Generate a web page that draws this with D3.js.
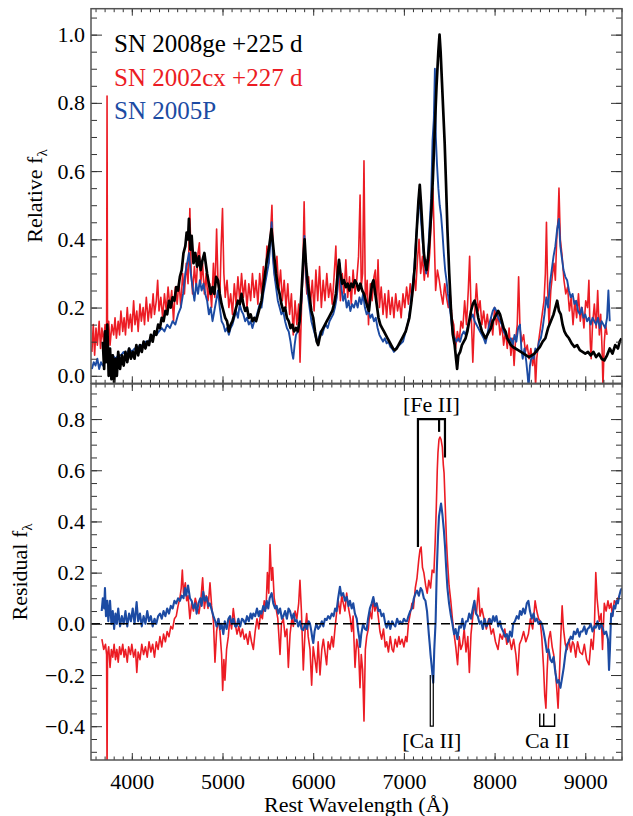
<!DOCTYPE html>
<html>
<head>
<meta charset="utf-8">
<script src="https://cdn.jsdelivr.net/npm/d3@7"></script>
<style>
  body { margin: 0; background: #fff; }
  svg text { font-family: "Liberation Serif", "DejaVu Serif", serif; }
</style>
</head>
<body>
<div id="chart"></div>
<script>
// spectra: [rest wavelength (A), relative flux]
var sn2008geTop = [[3680,0.10],[3695,0.02],[3705,0.13],[3715,0.04],[3730,0.15],[3745,0.0],[3760,0.08],[3775,-0.01],[3790,0.06],[3805,-0.02],[3820,0.05],[3835,0.0],[3850,0.07],[3870,0.02],[3890,0.06],[3910,0.03],[3930,0.07],[3950,0.04],[3970,0.08],[3990,0.05],[4010,0.07],[4030,0.05],[4050,0.09],[4070,0.06],[4090,0.09],[4110,0.07],[4130,0.10],[4150,0.08],[4170,0.10],[4190,0.09],[4210,0.12],[4230,0.10],[4250,0.13],[4270,0.12],[4290,0.15],[4310,0.14],[4330,0.17],[4350,0.16],[4370,0.19],[4390,0.18],[4410,0.22],[4430,0.20],[4450,0.23],[4470,0.22],[4490,0.26],[4510,0.25],[4530,0.29],[4550,0.31],[4570,0.36],[4590,0.38],[4605,0.42],[4620,0.40],[4630,0.46],[4645,0.37],[4660,0.41],[4680,0.33],[4700,0.36],[4720,0.32],[4740,0.35],[4760,0.31],[4780,0.34],[4800,0.36],[4815,0.33],[4830,0.30],[4850,0.27],[4870,0.24],[4890,0.26],[4910,0.24],[4930,0.29],[4950,0.28],[4970,0.24],[4990,0.21],[5010,0.19],[5030,0.17],[5050,0.16],[5070,0.13],[5090,0.15],[5110,0.16],[5130,0.18],[5150,0.20],[5170,0.22],[5190,0.21],[5210,0.24],[5230,0.21],[5250,0.19],[5270,0.20],[5290,0.17],[5310,0.18],[5330,0.16],[5350,0.17],[5370,0.16],[5390,0.18],[5410,0.20],[5430,0.22],[5450,0.26],[5470,0.30],[5490,0.34],[5510,0.37],[5525,0.40],[5540,0.43],[5555,0.39],[5570,0.35],[5590,0.30],[5610,0.26],[5630,0.24],[5650,0.21],[5670,0.19],[5690,0.20],[5710,0.17],[5730,0.16],[5750,0.14],[5770,0.15],[5790,0.13],[5810,0.14],[5830,0.13],[5850,0.16],[5870,0.24],[5890,0.34],[5905,0.40],[5920,0.33],[5940,0.27],[5960,0.23],[5980,0.19],[6000,0.17],[6020,0.13],[6040,0.10],[6055,0.09],[6070,0.11],[6090,0.13],[6110,0.14],[6130,0.15],[6150,0.16],[6170,0.17],[6190,0.18],[6210,0.19],[6230,0.21],[6250,0.24],[6270,0.30],[6285,0.34],[6300,0.30],[6320,0.27],[6340,0.28],[6360,0.26],[6380,0.27],[6400,0.25],[6420,0.27],[6440,0.26],[6460,0.28],[6480,0.27],[6500,0.25],[6520,0.27],[6540,0.25],[6560,0.24],[6580,0.22],[6600,0.20],[6615,0.19],[6630,0.23],[6650,0.27],[6665,0.28],[6680,0.25],[6700,0.21],[6720,0.17],[6740,0.15],[6760,0.14],[6780,0.13],[6800,0.12],[6820,0.11],[6840,0.10],[6860,0.09],[6880,0.08],[6900,0.075],[6920,0.08],[6940,0.09],[6960,0.10],[6980,0.11],[7000,0.12],[7020,0.13],[7040,0.15],[7060,0.17],[7080,0.21],[7100,0.26],[7120,0.32],[7140,0.42],[7160,0.51],[7175,0.56],[7190,0.50],[7205,0.43],[7220,0.36],[7235,0.33],[7250,0.31],[7265,0.34],[7280,0.39],[7300,0.47],[7320,0.58],[7340,0.72],[7360,0.85],[7380,0.95],[7393,1.00],[7405,0.95],[7420,0.86],[7435,0.77],[7450,0.68],[7465,0.56],[7480,0.43],[7500,0.30],[7520,0.19],[7540,0.12],[7560,0.09],[7575,0.05],[7587,0.02],[7600,0.06],[7620,0.07],[7640,0.09],[7660,0.10],[7680,0.11],[7700,0.13],[7720,0.16],[7740,0.19],[7760,0.21],[7780,0.22],[7800,0.20],[7820,0.17],[7840,0.15],[7860,0.13],[7880,0.12],[7900,0.11],[7920,0.12],[7940,0.13],[7960,0.14],[7980,0.16],[8000,0.17],[8020,0.18],[8040,0.19],[8060,0.18],[8080,0.16],[8100,0.14],[8120,0.13],[8140,0.11],[8160,0.10],[8180,0.09],[8200,0.085],[8230,0.08],[8260,0.075],[8290,0.07],[8320,0.065],[8350,0.06],[8380,0.055],[8410,0.06],[8440,0.065],[8470,0.075],[8500,0.085],[8530,0.10],[8560,0.11],[8590,0.14],[8620,0.16],[8650,0.18],[8670,0.20],[8690,0.22],[8710,0.19],[8730,0.18],[8750,0.15],[8770,0.13],[8790,0.12],[8820,0.11],[8850,0.095],[8880,0.085],[8910,0.09],[8940,0.075],[8970,0.07],[9000,0.065],[9030,0.07],[9060,0.06],[9090,0.07],[9120,0.055],[9150,0.065],[9180,0.05],[9210,0.045],[9240,0.06],[9270,0.08],[9300,0.065],[9330,0.09],[9360,0.08],[9380,0.10],[9400,0.11]];

var sn2002cxTop = [[3560,0.07],[3575,0.15],[3590,0.06],[3605,0.14],[3620,0.09],[3640,0.16],[3655,0.08],[3670,0.14],[3690,0.10],[3705,0.15],[3722,0.12],[3727,0.82],[3732,0.12],[3745,0.16],[3760,0.09],[3780,0.15],[3800,0.12],[3815,0.17],[3830,0.11],[3850,0.16],[3865,0.12],[3880,0.19],[3900,0.13],[3915,0.17],[3930,0.12],[3950,0.20],[3965,0.14],[3985,0.18],[4000,0.13],[4020,0.22],[4035,0.15],[4055,0.19],[4070,0.13],[4090,0.21],[4105,0.16],[4125,0.20],[4140,0.15],[4160,0.23],[4180,0.16],[4200,0.21],[4215,0.17],[4235,0.24],[4250,0.18],[4270,0.22],[4285,0.28],[4300,0.19],[4320,0.23],[4340,0.17],[4360,0.24],[4380,0.19],[4400,0.26],[4420,0.20],[4440,0.25],[4460,0.16],[4480,0.26],[4500,0.21],[4520,0.28],[4540,0.20],[4560,0.30],[4580,0.24],[4600,0.33],[4620,0.27],[4640,0.49],[4655,0.30],[4670,0.24],[4690,0.32],[4710,0.26],[4730,0.36],[4745,0.39],[4760,0.27],[4780,0.33],[4800,0.24],[4820,0.30],[4840,0.22],[4860,0.27],[4880,0.20],[4900,0.33],[4915,0.23],[4935,0.43],[4950,0.28],[4970,0.22],[4985,0.38],[5000,0.49],[5015,0.30],[5030,0.23],[5050,0.28],[5070,0.20],[5090,0.24],[5110,0.18],[5130,0.27],[5150,0.21],[5170,0.29],[5190,0.22],[5210,0.30],[5230,0.23],[5250,0.28],[5270,0.20],[5290,0.27],[5310,0.22],[5330,0.30],[5350,0.23],[5370,0.28],[5390,0.21],[5410,0.30],[5430,0.24],[5450,0.32],[5470,0.27],[5490,0.38],[5510,0.33],[5530,0.42],[5545,0.50],[5560,0.34],[5580,0.28],[5600,0.35],[5620,0.25],[5640,0.31],[5660,0.22],[5680,0.28],[5700,0.20],[5720,0.27],[5740,0.18],[5760,0.24],[5780,0.12],[5800,0.22],[5820,0.15],[5840,0.21],[5855,0.04],[5870,0.19],[5885,0.30],[5900,0.51],[5915,0.30],[5930,0.24],[5950,0.29],[5970,0.21],[5990,0.28],[6010,0.19],[6030,0.31],[6050,0.22],[6070,0.32],[6090,0.20],[6110,0.28],[6130,0.22],[6150,0.30],[6170,0.23],[6190,0.27],[6210,0.21],[6230,0.29],[6250,0.38],[6265,0.24],[6285,0.33],[6300,0.22],[6320,0.30],[6340,0.24],[6360,0.34],[6380,0.23],[6400,0.29],[6420,0.21],[6440,0.31],[6460,0.24],[6480,0.28],[6500,0.35],[6517,0.53],[6530,0.26],[6545,0.30],[6560,0.63],[6575,0.22],[6595,0.28],[6610,0.15],[6630,0.27],[6650,0.22],[6670,0.29],[6685,0.31],[6700,0.21],[6715,0.34],[6730,0.20],[6750,0.26],[6770,0.18],[6790,0.24],[6810,0.17],[6830,0.25],[6850,0.18],[6870,0.23],[6890,0.17],[6910,0.24],[6930,0.19],[6950,0.22],[6970,0.17],[6990,0.24],[7010,0.20],[7030,0.26],[7050,0.21],[7070,0.27],[7090,0.22],[7110,0.30],[7130,0.25],[7150,0.34],[7167,0.40],[7185,0.30],[7205,0.35],[7225,0.28],[7245,0.34],[7265,0.29],[7285,0.36],[7300,0.45],[7320,0.55],[7335,0.40],[7350,0.25],[7370,0.31],[7390,0.28],[7410,0.24],[7430,0.21],[7450,0.27],[7470,0.23],[7490,0.20],[7510,0.24],[7530,0.17],[7550,0.15],[7570,0.08],[7590,0.13],[7610,0.10],[7630,0.16],[7650,0.14],[7670,0.22],[7690,0.15],[7710,0.25],[7725,0.35],[7740,0.20],[7760,0.04],[7780,0.18],[7800,0.27],[7820,0.19],[7840,0.22],[7860,0.15],[7880,0.19],[7900,0.14],[7920,0.18],[7940,0.13],[7960,0.17],[7980,0.12],[8000,0.20],[8020,0.15],[8040,0.18],[8060,0.12],[8080,0.15],[8100,0.09],[8120,0.13],[8140,0.08],[8160,0.14],[8180,0.06],[8200,0.11],[8215,0.03],[8230,0.10],[8250,0.15],[8265,0.29],[8280,0.14],[8300,0.10],[8320,0.12],[8340,0.07],[8360,0.09],[8380,0.05],[8400,0.08],[8420,0.03],[8440,0.06],[8452,-0.03],[8465,0.05],[8485,0.10],[8505,0.14],[8525,0.18],[8545,0.22],[8560,0.30],[8572,0.45],[8585,0.26],[8600,0.15],[8620,0.25],[8640,0.30],[8655,0.33],[8670,0.28],[8685,0.40],[8700,0.46],[8710,0.55],[8725,0.40],[8745,0.35],[8765,0.28],[8785,0.24],[8805,0.26],[8825,0.19],[8845,0.23],[8865,0.15],[8885,0.22],[8905,0.17],[8925,0.24],[8945,0.16],[8965,0.20],[8985,0.14],[9005,0.22],[9025,0.20],[9040,0.28],[9055,0.10],[9065,0.05],[9080,0.15],[9100,0.21],[9120,0.14],[9137,0.25],[9155,0.12],[9170,0.18],[9185,0.08],[9195,-0.03],[9210,0.10],[9225,0.15],[9240,0.12]];

var sn2005pTop = [[3560,0.02],[3580,0.04],[3600,0.03],[3620,0.05],[3640,0.02],[3660,0.04],[3680,0.03],[3700,0.04],[3730,0.05],[3760,0.04],[3790,0.06],[3820,0.05],[3850,0.06],[3880,0.06],[3910,0.07],[3940,0.06],[3970,0.08],[4000,0.07],[4030,0.08],[4060,0.08],[4090,0.09],[4120,0.09],[4150,0.10],[4180,0.10],[4210,0.11],[4240,0.12],[4270,0.12],[4300,0.13],[4330,0.14],[4360,0.13],[4390,0.15],[4420,0.14],[4450,0.16],[4480,0.15],[4510,0.18],[4540,0.20],[4565,0.24],[4590,0.30],[4610,0.33],[4630,0.36],[4650,0.30],[4670,0.26],[4690,0.22],[4710,0.27],[4730,0.24],[4750,0.28],[4770,0.25],[4790,0.27],[4810,0.24],[4830,0.22],[4850,0.18],[4870,0.20],[4890,0.16],[4910,0.19],[4930,0.22],[4950,0.25],[4970,0.20],[4990,0.16],[5010,0.15],[5030,0.13],[5050,0.14],[5070,0.12],[5090,0.14],[5110,0.15],[5130,0.17],[5150,0.19],[5170,0.17],[5190,0.21],[5210,0.19],[5230,0.18],[5250,0.16],[5270,0.17],[5290,0.15],[5310,0.16],[5330,0.14],[5350,0.16],[5370,0.17],[5390,0.19],[5410,0.21],[5430,0.20],[5450,0.24],[5470,0.27],[5490,0.30],[5510,0.33],[5525,0.38],[5542,0.45],[5555,0.35],[5570,0.30],[5590,0.26],[5610,0.22],[5630,0.20],[5650,0.18],[5670,0.19],[5690,0.16],[5710,0.14],[5730,0.13],[5750,0.10],[5765,0.07],[5780,0.05],[5795,0.09],[5810,0.12],[5830,0.13],[5850,0.16],[5870,0.22],[5890,0.33],[5903,0.41],[5920,0.30],[5940,0.24],[5960,0.20],[5980,0.16],[6000,0.14],[6020,0.12],[6040,0.10],[6060,0.11],[6080,0.13],[6100,0.12],[6120,0.14],[6140,0.15],[6160,0.14],[6180,0.16],[6200,0.17],[6220,0.18],[6240,0.20],[6260,0.23],[6280,0.30],[6292,0.33],[6310,0.26],[6330,0.22],[6350,0.24],[6370,0.20],[6390,0.22],[6410,0.19],[6430,0.21],[6450,0.20],[6470,0.22],[6490,0.20],[6510,0.23],[6530,0.21],[6550,0.24],[6570,0.20],[6590,0.18],[6610,0.19],[6630,0.17],[6650,0.18],[6670,0.16],[6690,0.17],[6710,0.14],[6730,0.12],[6750,0.11],[6770,0.10],[6790,0.11],[6810,0.095],[6830,0.10],[6850,0.085],[6870,0.08],[6890,0.07],[6910,0.08],[6930,0.085],[6950,0.09],[6970,0.095],[6990,0.10],[7010,0.12],[7030,0.14],[7050,0.16],[7070,0.20],[7090,0.25],[7110,0.30],[7130,0.38],[7150,0.46],[7167,0.53],[7185,0.47],[7205,0.40],[7225,0.34],[7245,0.30],[7265,0.35],[7285,0.45],[7300,0.52],[7316,0.69],[7330,0.75],[7342,0.90],[7352,0.70],[7365,0.62],[7380,0.55],[7395,0.50],[7410,0.47],[7425,0.42],[7440,0.36],[7455,0.31],[7470,0.28],[7485,0.24],[7500,0.21],[7520,0.17],[7540,0.12],[7560,0.11],[7580,0.10],[7600,0.11],[7620,0.10],[7640,0.12],[7660,0.13],[7680,0.12],[7700,0.14],[7720,0.16],[7740,0.17],[7760,0.18],[7780,0.16],[7800,0.15],[7820,0.14],[7840,0.13],[7860,0.12],[7880,0.11],[7900,0.095],[7920,0.12],[7940,0.15],[7960,0.17],[7980,0.19],[8000,0.20],[8020,0.19],[8040,0.17],[8060,0.16],[8080,0.15],[8100,0.13],[8120,0.12],[8140,0.11],[8160,0.10],[8180,0.11],[8200,0.09],[8220,0.12],[8240,0.10],[8260,0.14],[8280,0.15],[8295,0.08],[8310,0.05],[8330,0.08],[8350,0.04],[8365,0.0],[8375,-0.035],[8390,0.03],[8410,0.06],[8430,0.05],[8450,0.08],[8470,0.07],[8490,0.10],[8510,0.11],[8530,0.14],[8550,0.18],[8570,0.23],[8590,0.20],[8610,0.27],[8630,0.31],[8650,0.35],[8670,0.38],[8690,0.43],[8709,0.46],[8725,0.38],[8740,0.35],[8760,0.31],[8780,0.29],[8800,0.28],[8820,0.25],[8840,0.23],[8860,0.24],[8880,0.21],[8900,0.22],[8920,0.19],[8940,0.18],[8960,0.20],[8980,0.17],[9000,0.18],[9020,0.16],[9040,0.17],[9060,0.15],[9080,0.17],[9100,0.16],[9120,0.15],[9140,0.17],[9160,0.14],[9180,0.16],[9200,0.15],[9220,0.14],[9240,0.17],[9255,0.25],[9270,0.16]];

// residuals after subtracting SN 2008ge
var sn2002cxResidual = [[3670,-0.06],[3690,-0.10],[3710,-0.08],[3722,-0.12],[3727,-0.60],[3732,-0.12],[3745,-0.09],[3760,-0.17],[3775,-0.10],[3790,-0.13],[3805,-0.08],[3820,-0.14],[3835,-0.10],[3850,-0.15],[3865,-0.09],[3880,-0.12],[3900,-0.08],[3915,-0.13],[3930,-0.10],[3950,-0.15],[3965,-0.09],[3985,-0.12],[4000,-0.08],[4020,-0.13],[4040,-0.10],[4055,-0.19],[4070,-0.11],[4090,-0.14],[4110,-0.08],[4130,-0.12],[4150,-0.09],[4170,-0.13],[4190,-0.07],[4210,-0.11],[4230,-0.08],[4250,-0.13],[4270,-0.07],[4290,-0.10],[4310,-0.05],[4330,-0.09],[4350,-0.04],[4370,-0.07],[4390,-0.03],[4410,-0.05],[4430,-0.01],[4450,-0.02],[4470,0.02],[4490,0.03],[4510,0.07],[4530,0.10],[4545,0.14],[4557,0.21],[4570,0.12],[4590,0.16],[4605,0.09],[4620,0.11],[4640,0.02],[4660,0.08],[4680,0.05],[4700,0.10],[4720,0.07],[4740,0.04],[4760,0.09],[4781,0.18],[4800,0.06],[4820,0.11],[4840,0.06],[4862,0.16],[4880,0.07],[4900,0.01],[4917,-0.15],[4935,-0.03],[4955,0.02],[4972,-0.03],[4990,-0.12],[5002,-0.26],[5015,-0.14],[5027,-0.22],[5045,-0.10],[5064,-0.05],[5080,0.02],[5100,-0.02],[5119,0.06],[5140,0.0],[5160,-0.04],[5180,-0.01],[5200,-0.05],[5220,-0.02],[5240,-0.06],[5260,-0.04],[5280,-0.08],[5300,-0.03],[5320,-0.07],[5340,-0.10],[5360,-0.03],[5380,0.02],[5400,-0.02],[5420,0.04],[5440,0.02],[5460,0.09],[5480,0.06],[5495,0.20],[5510,0.12],[5524,0.31],[5540,0.17],[5553,0.22],[5570,0.10],[5590,0.06],[5610,0.02],[5634,-0.12],[5650,0.0],[5671,0.02],[5690,-0.05],[5710,-0.02],[5726,-0.17],[5745,-0.04],[5765,0.02],[5781,-0.01],[5800,0.05],[5820,0.02],[5840,0.08],[5854,0.17],[5870,0.05],[5891,-0.18],[5910,-0.03],[5928,0.04],[5945,-0.05],[5965,-0.10],[5983,-0.24],[6000,-0.09],[6020,-0.14],[6038,-0.19],[6055,-0.07],[6075,-0.20],[6095,-0.10],[6112,-0.06],[6130,-0.11],[6148,-0.16],[6165,-0.07],[6185,-0.10],[6205,-0.05],[6222,-0.09],[6240,-0.02],[6260,0.05],[6277,0.09],[6295,0.04],[6315,0.11],[6332,0.08],[6350,0.05],[6369,0.12],[6390,0.06],[6410,0.02],[6424,-0.03],[6440,0.03],[6461,-0.17],[6480,-0.06],[6500,-0.10],[6516,-0.25],[6530,-0.12],[6545,-0.18],[6560,-0.38],[6575,-0.10],[6590,-0.05],[6608,-0.02],[6625,0.05],[6645,0.02],[6663,0.10],[6680,0.05],[6700,0.08],[6720,0.02],[6736,-0.03],[6755,-0.06],[6775,-0.02],[6795,-0.09],[6810,-0.07],[6830,-0.11],[6850,-0.05],[6870,-0.10],[6885,-0.11],[6905,-0.06],[6925,-0.09],[6945,-0.05],[6959,-0.08],[6980,-0.06],[7000,-0.09],[7020,-0.05],[7034,-0.07],[7050,0.0],[7070,0.04],[7089,0.08],[7105,0.06],[7126,0.14],[7145,0.18],[7164,0.25],[7178,0.29],[7190,0.30],[7205,0.22],[7220,0.20],[7240,0.15],[7257,0.12],[7275,0.17],[7294,0.14],[7312,0.21],[7331,0.20],[7345,0.32],[7357,0.45],[7368,0.60],[7376,0.67],[7387,0.72],[7398,0.73],[7410,0.72],[7424,0.69],[7435,0.62],[7443,0.59],[7452,0.50],[7461,0.41],[7470,0.32],[7480,0.25],[7498,0.15],[7517,0.09],[7535,0.02],[7554,-0.04],[7572,-0.09],[7592,-0.16],[7610,-0.05],[7628,-0.10],[7647,-0.08],[7665,-0.02],[7685,-0.11],[7705,-0.05],[7722,-0.19],[7740,-0.04],[7760,0.03],[7778,0.07],[7800,0.04],[7822,0.14],[7840,0.03],[7860,0.06],[7889,0.01],[7910,-0.02],[7935,0.02],[7964,-0.04],[7985,-0.02],[8010,-0.07],[8038,-0.10],[8060,-0.04],[8085,-0.06],[8112,-0.02],[8135,-0.08],[8160,-0.05],[8187,-0.10],[8210,-0.06],[8235,-0.12],[8254,-0.20],[8275,-0.08],[8298,-0.06],[8320,-0.03],[8345,-0.07],[8373,-0.04],[8395,0.02],[8420,-0.02],[8447,0.09],[8465,0.05],[8485,0.02],[8503,0.01],[8520,-0.05],[8540,-0.17],[8553,-0.28],[8566,-0.33],[8580,-0.18],[8597,-0.06],[8615,-0.03],[8635,-0.09],[8652,-0.12],[8670,-0.18],[8685,-0.25],[8700,-0.33],[8715,-0.20],[8730,-0.05],[8745,0.07],[8760,-0.02],[8780,-0.08],[8801,-0.10],[8820,-0.06],[8840,-0.11],[8860,-0.07],[8875,-0.08],[8895,-0.13],[8915,-0.07],[8940,-0.11],[8968,-0.12],[8990,-0.08],[9015,-0.14],[9042,-0.16],[9065,-0.06],[9085,-0.10],[9100,-0.02],[9116,0.20],[9130,0.10],[9154,0.01],[9175,0.04],[9190,-0.10],[9210,0.08],[9230,0.05],[9250,0.09],[9266,0.06],[9285,0.08],[9300,0.03],[9320,0.09],[9340,0.08],[9360,0.10],[9380,0.11]];

var sn2005pResidual = [[3668,0.05],[3680,0.10],[3695,0.06],[3704,0.14],[3715,0.03],[3730,0.09],[3741,0.01],[3760,0.09],[3775,0.0],[3790,0.05],[3805,-0.02],[3820,0.04],[3835,0.0],[3850,0.06],[3870,-0.01],[3890,0.03],[3910,0.0],[3930,0.05],[3950,-0.01],[3970,0.04],[3990,0.01],[4010,0.06],[4030,0.0],[4053,0.085],[4070,0.01],[4090,0.04],[4110,-0.01],[4130,0.03],[4150,0.0],[4170,0.05],[4190,0.01],[4210,0.03],[4230,-0.01],[4250,0.02],[4270,0.0],[4290,0.03],[4311,0.04],[4330,0.02],[4350,0.05],[4370,0.03],[4390,0.06],[4410,0.04],[4430,0.07],[4450,0.06],[4470,0.09],[4490,0.08],[4510,0.10],[4530,0.09],[4550,0.11],[4570,0.10],[4586,0.14],[4600,0.11],[4620,0.15],[4641,0.10],[4660,0.09],[4680,0.06],[4700,0.08],[4715,0.04],[4735,0.08],[4755,0.10],[4770,0.07],[4788,0.125],[4805,0.09],[4825,0.105],[4845,0.07],[4860,0.08],[4880,0.055],[4900,0.03],[4920,0.01],[4935,-0.01],[4955,0.02],[4975,-0.02],[4990,0.0],[5009,-0.04],[5025,0.01],[5045,-0.02],[5065,0.02],[5083,0.03],[5100,0.0],[5120,0.02],[5140,-0.01],[5156,-0.01],[5175,0.02],[5195,-0.01],[5215,0.02],[5230,0.015],[5250,0.0],[5270,0.03],[5290,0.01],[5310,0.04],[5325,0.02],[5340,0.04],[5360,0.03],[5380,0.06],[5400,0.03],[5413,0.05],[5430,0.04],[5450,0.07],[5470,0.05],[5487,0.09],[5505,0.06],[5520,0.10],[5542,0.12],[5560,0.08],[5580,0.06],[5597,0.07],[5615,0.04],[5635,0.06],[5655,0.02],[5671,0.03],[5690,0.05],[5710,0.02],[5728,0.06],[5744,0.05],[5765,0.02],[5785,0.04],[5800,0.01],[5818,0.015],[5835,-0.01],[5855,0.01],[5872,-0.02],[5891,-0.025],[5910,0.0],[5930,-0.02],[5950,0.01],[5965,0.0],[5980,-0.03],[5992,-0.06],[6001,-0.075],[6015,-0.03],[6035,0.0],[6055,-0.02],[6075,-0.01],[6095,0.01],[6112,-0.01],[6130,0.02],[6148,0.015],[6165,0.03],[6185,0.02],[6205,0.04],[6225,0.03],[6242,0.06],[6258,0.05],[6275,0.10],[6295,0.145],[6310,0.11],[6330,0.12],[6350,0.09],[6369,0.105],[6390,0.07],[6405,0.09],[6425,0.06],[6442,0.08],[6460,0.04],[6480,0.02],[6497,-0.03],[6510,-0.06],[6516,-0.09],[6530,-0.04],[6550,0.0],[6570,-0.02],[6589,-0.025],[6605,0.02],[6625,0.06],[6645,0.08],[6663,0.105],[6680,0.07],[6700,0.08],[6720,0.05],[6736,0.055],[6755,0.03],[6775,0.04],[6795,0.0],[6810,-0.015],[6830,0.01],[6850,-0.02],[6870,0.01],[6885,0.0],[6905,-0.01],[6925,0.02],[6945,0.0],[6959,0.01],[6980,0.0],[7000,0.02],[7020,0.01],[7034,0.01],[7050,0.03],[7070,0.05],[7089,0.06],[7110,0.10],[7130,0.12],[7145,0.13],[7165,0.11],[7185,0.14],[7201,0.13],[7220,0.10],[7238,0.09],[7255,0.05],[7275,-0.04],[7285,-0.08],[7294,-0.12],[7305,-0.16],[7315,-0.20],[7324,-0.23],[7335,-0.10],[7350,0.01],[7362,0.20],[7376,0.34],[7387,0.42],[7398,0.445],[7410,0.47],[7424,0.43],[7440,0.37],[7454,0.30],[7466,0.22],[7480,0.14],[7498,0.08],[7517,0.035],[7535,0.0],[7554,-0.04],[7570,-0.02],[7590,-0.06],[7610,-0.01],[7629,-0.015],[7645,0.02],[7665,-0.02],[7685,0.01],[7703,0.01],[7720,0.04],[7740,0.02],[7760,0.06],[7778,0.09],[7795,0.04],[7815,0.03],[7835,0.0],[7852,0.01],[7870,-0.02],[7890,0.02],[7910,-0.01],[7926,0.0],[7945,0.02],[7965,0.0],[7985,0.03],[8001,0.01],[8020,0.03],[8040,-0.01],[8060,0.01],[8075,-0.015],[8095,-0.03],[8115,-0.05],[8135,-0.04],[8150,-0.07],[8170,-0.03],[8190,-0.05],[8205,0.0],[8224,0.01],[8245,0.03],[8265,0.02],[8280,0.05],[8298,0.035],[8315,0.06],[8335,0.04],[8355,0.08],[8373,0.09],[8390,0.05],[8410,0.02],[8430,0.04],[8447,0.01],[8465,0.02],[8485,0.0],[8505,0.01],[8522,0.0],[8540,-0.03],[8560,-0.07],[8577,-0.11],[8595,-0.10],[8615,-0.14],[8633,-0.15],[8650,-0.13],[8670,-0.19],[8689,-0.23],[8706,-0.22],[8726,-0.25],[8745,-0.21],[8763,-0.17],[8780,-0.12],[8800,-0.08],[8819,-0.07],[8840,-0.05],[8860,-0.06],[8875,-0.03],[8894,-0.04],[8915,-0.02],[8935,-0.05],[8950,-0.03],[8968,-0.03],[8990,-0.01],[9010,-0.04],[9025,-0.02],[9042,-0.015],[9060,0.0],[9080,-0.03],[9100,-0.01],[9116,-0.015],[9135,0.01],[9155,-0.02],[9175,0.0],[9191,-0.015],[9210,-0.04],[9230,-0.03],[9250,-0.06],[9262,-0.18],[9272,-0.10],[9285,0.04],[9300,0.03],[9315,0.07],[9330,0.06],[9345,0.09],[9360,0.08],[9375,0.11],[9390,0.13],[9405,0.14]];

var legendLabels = ["SN 2008ge +225 d", "SN 2002cx +227 d", "SN 2005P"];
var xMajorTicks = [4000, 5000, 6000, 7000, 8000, 9000];
var topMajorTicks = [0.0, 0.2, 0.4, 0.6, 0.8, 1.0];
var bottomMajorTicks = [-0.4, -0.2, 0.0, 0.2, 0.4, 0.6, 0.8];
// line identifications: rest wavelengths (A)
var feIILines = [7155, 7388, 7453];
var feIILegEnds = [0.30, 0.75, 0.65];
var caIIForbidden = [7291, 7324];
var caIITriplet = [8498, 8542, 8662];

var colors = {black: "#000000", red: "#ec1c24", blue: "#1c4ba3"};

var width = 633, height = 816;
var left = 91, right = 622;
var topPanel = {top: 8.7, bottom: 383.3};
var botPanel = {top: 384, bottom: 760};

var svg = d3.select("#chart").append("svg")
    .attr("xmlns", "http://www.w3.org/2000/svg")
    .attr("width", width)
    .attr("height", height);

var x = d3.scaleLinear().domain([3550, 9405]).range([left, right]);
var yTop = d3.scaleLinear().domain([-0.022, 1.076]).range([topPanel.bottom, topPanel.top]);
var yBot = d3.scaleLinear().domain([-0.532, 0.937]).range([botPanel.bottom, botPanel.top]);

var xMinor = d3.range(3600, 9401, 100);
var topMinor = d3.range(0, 1.07, 0.05);
var botMinor = d3.range(-0.5, 0.93, 0.05);

function clip(id, p) {
    svg.append("clipPath").attr("id", id)
        .append("rect")
        .attr("x", left).attr("y", p.top)
        .attr("width", right - left).attr("height", p.bottom - p.top);
}
clip("clipTop", topPanel);
clip("clipBot", botPanel);

function drawSpectrum(data, yScale, color, widthPx, clipId) {
    var line = d3.line()
        .x(function (d) { return x(d[0]); })
        .y(function (d) { return yScale(d[1]); });
    svg.append("path")
        .datum(data)
        .attr("clip-path", "url(#" + clipId + ")")
        .attr("fill", "none")
        .attr("stroke", color)
        .attr("stroke-width", widthPx)
        .attr("stroke-linejoin", "round")
        .attr("d", line);
}

// top panel spectra
drawSpectrum(sn2002cxTop, yTop, colors.red, 1.6, "clipTop");
drawSpectrum(sn2005pTop, yTop, colors.blue, 1.9, "clipTop");
drawSpectrum(sn2008geTop, yTop, colors.black, 2.7, "clipTop");

// bottom panel residuals
drawSpectrum(sn2002cxResidual, yBot, colors.red, 1.6, "clipBot");
drawSpectrum(sn2005pResidual, yBot, colors.blue, 2.1, "clipBot");

svg.append("line")
    .attr("x1", left).attr("x2", right)
    .attr("y1", yBot(0)).attr("y2", yBot(0))
    .attr("stroke", "#000")
    .attr("stroke-width", 1.5)
    .attr("stroke-dasharray", "9,5");

// axes: ticks on all four sides pointing inward
function styleAxis(g) {
    g.select(".domain").remove();
    g.selectAll(".tick line").attr("stroke", "#333").attr("stroke-width", 1);
    g.selectAll(".tick text").attr("font-size", "22px").attr("fill", "#000")
        .attr("font-family", "'Liberation Serif', 'DejaVu Serif', serif");
}

function panelAxes(p, yScale, majorY, minorY, withXLabels) {
    var gB = svg.append("g").attr("transform", "translate(0," + p.bottom + ")");
    gB.call(d3.axisBottom(x).tickValues(xMinor).tickSize(-3.5).tickSizeOuter(0).tickFormat("")).call(styleAxis);
    var gB2 = svg.append("g").attr("transform", "translate(0," + p.bottom + ")");
    gB2.call(d3.axisBottom(x).tickValues(xMajorTicks).tickSize(-7).tickSizeOuter(0).tickPadding(13)
        .tickFormat(withXLabels ? d3.format("d") : "")).call(styleAxis);

    var gT = svg.append("g").attr("transform", "translate(0," + p.top + ")");
    gT.call(d3.axisTop(x).tickValues(xMinor).tickSize(-3.5).tickSizeOuter(0).tickFormat("")).call(styleAxis);
    var gT2 = svg.append("g").attr("transform", "translate(0," + p.top + ")");
    gT2.call(d3.axisTop(x).tickValues(xMajorTicks).tickSize(-7).tickSizeOuter(0).tickFormat("")).call(styleAxis);

    var gL = svg.append("g").attr("transform", "translate(" + left + ",0)");
    gL.call(d3.axisLeft(yScale).tickValues(minorY).tickSize(-6).tickSizeOuter(0).tickFormat("")).call(styleAxis);
    var gL2 = svg.append("g").attr("transform", "translate(" + left + ",0)");
    gL2.call(d3.axisLeft(yScale).tickValues(majorY).tickSize(-11).tickSizeOuter(0).tickPadding(6)
        .tickFormat(d3.format(".1f"))).call(styleAxis);

    var gR = svg.append("g").attr("transform", "translate(" + right + ",0)");
    gR.call(d3.axisRight(yScale).tickValues(minorY).tickSize(-6).tickSizeOuter(0).tickFormat("")).call(styleAxis);
    var gR2 = svg.append("g").attr("transform", "translate(" + right + ",0)");
    gR2.call(d3.axisRight(yScale).tickValues(majorY).tickSize(-11).tickSizeOuter(0).tickFormat("")).call(styleAxis);

    svg.append("rect")
        .attr("x", left).attr("y", p.top)
        .attr("width", right - left).attr("height", p.bottom - p.top)
        .attr("fill", "none")
        .attr("stroke", "#555")
        .attr("stroke-width", 1.5);
}

panelAxes(topPanel, yTop, topMajorTicks, topMinor, false);
panelAxes(botPanel, yBot, bottomMajorTicks, botMinor, true);

// axis titles
function yTitle(tx, ty, label) {
    var t = svg.append("text")
        .attr("transform", "translate(" + tx + "," + ty + ") rotate(-90)")
        .attr("text-anchor", "middle")
        .attr("font-size", "22px")
        .text(label);
    t.append("tspan").attr("dy", 5).attr("font-size", "15px").text("λ");
}
yTitle(42, (topPanel.top + topPanel.bottom) / 2, "Relative f");
yTitle(27, (botPanel.top + botPanel.bottom) / 2, "Residual f");

svg.append("text")
    .attr("x", (left + right) / 2)
    .attr("y", 812)
    .attr("text-anchor", "middle")
    .attr("font-size", "22px")
    .text("Rest Wavelength (Å)");

// legend
var legendColors = [colors.black, colors.red, colors.blue];
svg.selectAll("text.legend")
    .data(legendLabels)
    .enter()
    .append("text")
    .attr("class", "legend")
    .attr("x", 114)
    .attr("y", function (d, i) { return 52 + i * 33.7; })
    .attr("font-size", "25px")
    .attr("fill", function (d, i) { return legendColors[i]; })
    .text(function (d) { return d; });

// line identifications in residual panel
var ann = svg.append("g").attr("fill", "none").attr("stroke", "#000");
ann.append("path")
    .attr("stroke-width", 2.2)
    .attr("d", "M" + x(feIILines[0]) + "," + yBot(feIILegEnds[0]) +
        "V" + yBot(0.8) + "H" + x(feIILines[2]) + "V" + yBot(feIILegEnds[2]));
ann.append("path")
    .attr("stroke-width", 2.2)
    .attr("d", "M" + x(feIILines[1]) + "," + yBot(0.8) + "V" + yBot(feIILegEnds[1]));
ann.append("path")
    .attr("stroke-width", 1.2)
    .attr("d", "M" + x(caIIForbidden[0]) + "," + yBot(-0.2) + "V" + yBot(-0.4) +
        "H" + x(caIIForbidden[1]) + "V" + yBot(-0.2));
ann.append("path")
    .attr("stroke-width", 1.4)
    .attr("d", "M" + x(caIITriplet[0]) + "," + yBot(-0.35) + "V" + yBot(-0.4) +
        "H" + x(caIITriplet[2]) + "V" + yBot(-0.35) +
        "M" + x(caIITriplet[1]) + "," + yBot(-0.35) + "V" + yBot(-0.4));

svg.append("text")
    .attr("x", x((feIILines[0] + feIILines[2]) / 2))
    .attr("y", 412)
    .attr("text-anchor", "middle")
    .attr("font-size", "22px")
    .text("[Fe II]");
svg.append("text")
    .attr("x", x((caIIForbidden[0] + caIIForbidden[1]) / 2))
    .attr("y", 748)
    .attr("text-anchor", "middle")
    .attr("font-size", "22px")
    .text("[Ca II]");
svg.append("text")
    .attr("x", x(8580))
    .attr("y", 748)
    .attr("text-anchor", "middle")
    .attr("font-size", "22px")
    .text("Ca II");
</script>
</body>
</html>
